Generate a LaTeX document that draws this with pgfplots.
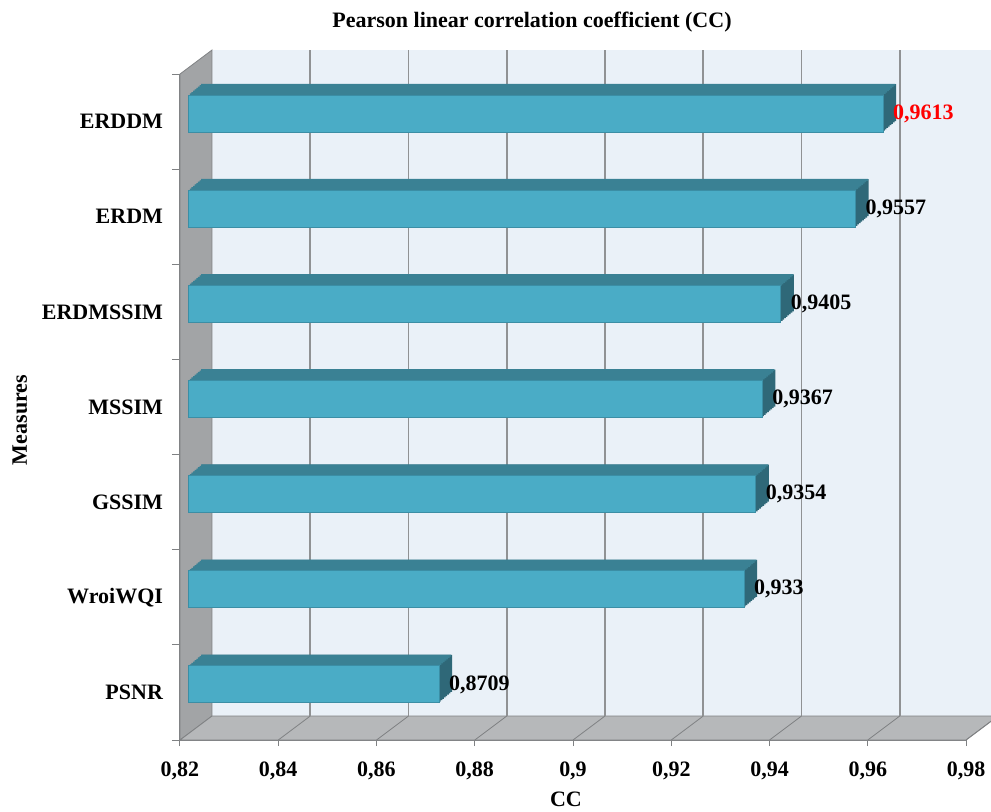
\documentclass[border=0pt]{standalone}
\usepackage{fontspec}
\setmainfont{Liberation Serif}
\usepackage{pgfplots}
\usepackage{pgfplotstable}
\pgfplotsset{compat=1.18}
\definecolor{wallblue}{HTML}{EAF1F8}
\definecolor{wallgray}{HTML}{A2A4A6}
\definecolor{floorgray}{HTML}{B6B8BA}
\definecolor{gridgray}{HTML}{909294}
\definecolor{edgegray}{HTML}{7F8183}
\definecolor{barfront}{HTML}{4AACC6}
\definecolor{barborder}{HTML}{3B8EA5}
\definecolor{bartop}{HTML}{3A8194}
\definecolor{barside}{HTML}{2F6878}
\newcommand\ff{\fontsize{11}{13}\selectfont\bfseries}
\pgfplotstableread{
pos cc lab
0 0.8709 0,8709
1 0.9330 0,933
2 0.9354 0,9354
3 0.9367 0,9367
4 0.9405 0,9405
5 0.9557 0,9557
6 0.9613 \textcolor{red}{0,9613}
}\data
\begin{document}
\begin{tikzpicture}[font=\ff]
\begin{axis}[
  at={(0,0)}, anchor=south west,
  scale only axis, width=393pt, height=333pt,
  xmin=0, xmax=0.16, ymin=-0.5, ymax=6.5,
  clip=false,
  axis x line*=bottom, axis y line*=left,
  axis line style={-, draw=edgegray, line width=0.5pt},
  xtick={0,0.02,0.04,0.06,0.08,0.1,0.12,0.14,0.16},
  xticklabels={{0,82},{0,84},{0,86},{0,88},{0,9},{0,92},{0,94},{0,96},{0,98}},
  ytick={0,...,6},
  yticklabels={PSNR,WroiWQI,GSSIM,MSSIM,ERDMSSIM,ERDM,{ERDDM\hspace{3pt}}},
  minor ytick={-0.5,0.5,...,6.5},
  tick align=outside,
  major tick length=3pt, minor tick length=4pt,
  tick style={draw=edgegray, line width=0.5pt},
  major y tick style={draw=none},
  ticklabel style={font=\ff},
  xticklabel style={yshift=-4.5pt},
  yticklabel style={xshift=-2pt},
  /pgf/number format/assume math mode=true,
]
% back wall, left wall, floor
\fill[wallblue] ([shift={(16pt,12pt)}]rel axis cs:0,0) rectangle ([shift={(16pt,12pt)}]rel axis cs:1,1);
\filldraw[fill=wallgray, draw=edgegray, line width=0.4pt] (rel axis cs:0,0) -- ([shift={(16pt,12pt)}]rel axis cs:0,0) -- ([shift={(16pt,12pt)}]rel axis cs:0,1) -- (rel axis cs:0,1) -- cycle;
\filldraw[fill=floorgray, draw=edgegray, line width=0.4pt] (rel axis cs:0,0) -- ([shift={(16pt,12pt)}]rel axis cs:0,0) -- ([shift={(16pt,12pt)}]rel axis cs:1,0) -- (rel axis cs:1,0) -- cycle;
\pgfplotsinvokeforeach{0.02,0.04,0.06,0.08,0.1,0.12,0.14,0.16}{
  \draw[gridgray, line width=0.9pt] ([shift={(16pt,12pt)}]axis cs:#1,-0.5) -- ([shift={(16pt,12pt)}]axis cs:#1,6.5);
  \draw[edgegray, line width=0.4pt] (axis cs:#1,-0.5) -- ([shift={(16pt,12pt)}]axis cs:#1,-0.5);
}
% bar depth (side faces)
\pgfplotsinvokeforeach{1,...,8}{
  \addplot[xbar, bar shift=0pt, bar width=18.5pt, draw=none, fill=barside,
    xshift=4.5pt+#1*0.8125pt, yshift=4pt+#1*0.6875pt]
    table[x expr=\thisrow{cc}-0.82, y=pos]{\data};
}
% bar top faces
\pgfplotsinvokeforeach{1,...,8}{
  \addplot[xbar, bar shift=0pt, bar width=0.95pt, draw=none, fill=bartop,
    xshift=4.5pt+(#1-0.5)*0.8125pt, yshift=13.25pt+(#1-0.5)*0.6875pt]
    table[x expr=\thisrow{cc}-0.82, y=pos]{\data};
}
% bar front faces with value labels
\addplot[xbar, bar shift=0pt, bar width=18.5pt, draw=barborder, line width=0.5pt, fill=barfront,
  xshift=4.5pt, yshift=4pt,
  nodes near coords, point meta=explicit symbolic,
  nodes near coords style={font=\ff, anchor=west, inner sep=0pt, xshift=4.75pt, text=black}]
  table[x expr=\thisrow{cc}-0.82, y=pos, meta=lab]{\data};
\end{axis}
\node[anchor=base] at (176pt,356.5pt) {Pearson linear correlation coefficient (CC)};
\node[anchor=base] at (193pt,-33pt) {CC};
\node[anchor=base, rotate=90] at (-76.5pt,160pt) {Measures};
\pgfresetboundingbox
\path[use as bounding box] (-90pt,-35.5pt) rectangle (405.5pt,370pt);
\end{tikzpicture}
\end{document}
